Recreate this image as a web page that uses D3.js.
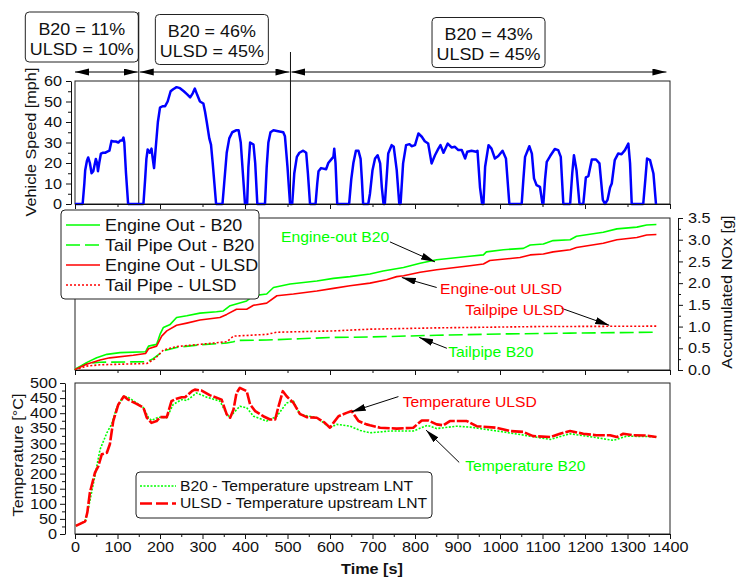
<!DOCTYPE html>
<html>
<head>
<meta charset="utf-8">
<script src="https://cdn.jsdelivr.net/npm/d3@7"></script>
<style>
  html, body { margin: 0; padding: 0; background: #fff; }
  svg { display: block; font-family: "Liberation Sans", Arial, sans-serif; }
</style>
</head>
<body>
<svg id="chart" width="736" height="577"></svg>
<script>
// ---- data: [time s, value] ----
const speed = [[0,0],[18,0],[22,10],[24,16.5],[28,21],[31,22.7],[35,20],[39,15],[43,16],[49,22],[52,20],[54,16],[57,20],[61,24.6],[66,25],[71,25],[76,25.5],[81,26],[86,30.8],[91,30.5],[96,30.5],[102,30],[107,31],[111,31],[114,32.4],[116,30],[120,15],[125,0],
  [161,0],[165,12],[168,22],[171,26.6],[176,25],[180,27],[183,22],[186,17.5],[191,30],[195,40],[200,47],[206,47.7],[212,47.7],[218,50],[225,55],[231,56],[239,57],[247,56.5],[256,55],[264,53.5],[271,52],[277,54],[282,56.3],[288,53],[294,50],[302,49],[306,45],[310,40],[316,32],[320,29],[324,20],[328,10],[332,0],
  [347,0],[351,10],[357,25],[363,32],[370,35],[380,36],[385,36],[390,30],[395,15],[400,0],[405,0],[408,18],[412,30],[420,29],[424,20],[429,0],
  [447,0],[451,18],[455,30],[460,35],[467,36],[478,35.5],[490,35],[494,33],[500,18],[506,0],[511,0],[516,15],[522,23],[528,25],[537,26],[544,25],[548,15],[553,0],
  [566,0],[570,10],[573,16],[579,17.5],[591,17],[596,20],[604,22],[608,23],[610,27],[613,20],[617,0],[645,0],[650,12],[655,20],[661,26],[667,26],[672,22],[675,12],[678,0],
  [690,0],[694,5],[700,16.5],[706,22.2],[712,23.8],[718,19.8],[722,8],[726,0],[729,0],[733,12],[737,24.6],[745,28.7],[750,27.9],[757,16.5],[763,0],
  [766,0],[772,19.8],[779,28.7],[787,29.2],[792,28.2],[800,28.7],[808,34.4],[816,32.8],[823,30.6],[831,29.5],[839,19.8],[847,23.8],[855,27],[860,28.7],[867,25],[877,29.5],[886,27.6],[894,27.9],[902,26.3],[910,26.3],[918,22.2],[923,25.5],[933,26],[944,25.5],[947,26],[953,8],[958,0],
  [961,0],[965,18.2],[973,28.7],[980,27],[988,22.2],[996,23.4],[1006,26],[1014,22.2],[1022,0],[1051,0],[1055,12],[1059,23],[1069,28.2],[1075,24.6],[1080,12.5],[1086,9.2],[1094,8.4],[1100,0],
  [1102,0],[1106,12],[1110,20.6],[1118,23.4],[1129,26.8],[1137,26.3],[1143,23],[1149,0],[1165,0],[1170,15],[1174,23.8],[1180,16.5],[1187,0],
  [1196,0],[1202,13],[1208,13.6],[1216,21.7],[1226,21.7],[1234,19.8],[1242,2],[1247,0],[1253,2],[1259,8],[1263,10],[1270,21.4],[1278,24.6],[1286,24.3],[1294,26.3],[1302,29.5],[1306,20],[1310,0],
  [1337,0],[1342,12],[1346,22.2],[1353,21.4],[1361,14.9],[1367,0]];

const noxEngineB20 = [[0,0],[2,0.03],[15,0.1],[27,0.17],[51,0.28],[75,0.36],[106,0.4],[166,0.42],[170,0.5],[173,0.55],[192,0.59],[196,0.7],[200,0.82],[208,0.98],[224,1.05],[239,1.21],[263,1.25],[294,1.31],[333,1.34],[349,1.36],[365,1.48],[404,1.59],[420,1.71],[451,1.75],[467,1.9],[506,1.98],[569,2.05],[608,2.11],[647,2.15],[694,2.21],[725,2.28],[773,2.36],[812,2.46],[851,2.54],[929,2.62],[961,2.65],[968,2.72],[1008,2.77],[1055,2.8],[1071,2.88],[1102,2.9],[1125,2.98],[1165,3.0],[1180,3.08],[1243,3.17],[1275,3.25],[1322,3.29],[1345,3.34],[1368,3.35]];
const noxTailB20 = [[0,0],[2,0.02],[27,0.15],[59,0.18],[169,0.19],[184,0.26],[208,0.44],[239,0.52],[294,0.58],[357,0.62],[373,0.65],[380,0.68],[451,0.69],[529,0.72],[608,0.75],[694,0.76],[733,0.77],[851,0.8],[1008,0.83],[1165,0.85],[1368,0.87]];
const noxEngineULSD = [[0,0],[2,0.02],[27,0.13],[59,0.23],[82,0.28],[137,0.34],[166,0.38],[173,0.49],[192,0.55],[204,0.78],[216,0.9],[239,1.03],[263,1.08],[294,1.15],[341,1.21],[357,1.28],[380,1.4],[404,1.4],[420,1.49],[451,1.54],[475,1.71],[514,1.75],[569,1.82],[608,1.88],[647,1.94],[694,2.0],[733,2.08],[757,2.15],[773,2.17],[812,2.25],[851,2.31],[929,2.4],[961,2.44],[976,2.52],[1047,2.59],[1071,2.65],[1102,2.67],[1125,2.72],[1165,2.77],[1180,2.82],[1243,2.92],[1275,3.0],[1322,3.05],[1345,3.11],[1368,3.12]];
const noxTailULSD = [[0,0],[2,0.01],[27,0.09],[59,0.12],[169,0.15],[188,0.26],[208,0.46],[239,0.54],[294,0.59],[357,0.65],[373,0.78],[451,0.82],[475,0.87],[608,0.9],[694,0.94],[851,0.97],[1086,1.0],[1368,1.01]];

const tempB20 = [[2,27],[24,42],[31,82],[43,165],[59,280],[75,335],[86,363],[98,418],[114,456],[125,453],[145,434],[161,418],[173,385],[180,376],[196,387],[216,385],[231,429],[251,445],[263,442],[286,467],[310,453],[341,440],[357,396],[365,387],[373,401],[388,423],[404,418],[420,390],[451,374],[475,390],[498,434],[514,440],[529,396],[569,385],[600,352],[616,363],[647,357],[671,343],[694,335],[741,341],[796,341],[829,360],[851,349],[898,357],[929,354],[1008,338],[1071,324],[1118,313],[1165,332],[1227,319],[1267,310],[1298,324],[1368,322]];
const tempULSD = [[2,27],[24,42],[29,71],[35,137],[47,203],[55,225],[63,264],[75,269],[82,297],[90,374],[102,429],[115,456],[125,445],[145,431],[161,418],[169,385],[180,368],[192,374],[200,387],[216,387],[227,440],[239,448],[251,453],[259,453],[275,473],[282,478],[298,475],[318,459],[345,445],[357,396],[365,385],[373,412],[380,467],[388,484],[404,473],[412,429],[424,407],[443,390],[459,379],[471,379],[478,418],[489,473],[498,456],[514,434],[529,398],[545,387],[569,385],[588,368],[600,352],[608,368],[620,390],[639,401],[651,407],[667,374],[686,363],[694,360],[718,352],[757,349],[796,352],[816,376],[831,376],[851,363],[867,360],[882,374],[922,374],[945,357],[992,352],[1023,341],[1055,338],[1078,324],[1118,321],[1141,332],[1165,341],[1196,332],[1227,327],[1259,327],[1275,321],[1290,332],[1314,327],[1345,326],[1368,321]];

// ticks
const timeTicks = d3.range(0, 1401, 100);
const timeMinor = d3.range(50, 1400, 100);
const speedTicks = d3.range(0, 61, 10);
const speedMinor = d3.range(5, 60, 10);
const noxTicks = d3.range(0, 3.51, 0.5);
const noxMinor = d3.range(0.25, 3.5, 0.5);
const tempTicks = d3.range(0, 501, 50);
const tempMinor = d3.range(25, 500, 50);

// phase annotations on top
const phaseBounds = [0, 150, 507, 1394];
const phaseB20 = ['B20 = 11%', 'B20 = 46%', 'B20 = 43%'];
const phaseULSD = ['ULSD = 10%', 'ULSD = 45%', 'ULSD = 45%'];
const phaseBoxCenter = [16, 322, 973];

// series labels
const noxLabels = ['Engine Out - B20', 'Tail Pipe Out - B20', 'Engine Out - ULSD', 'Tail Pipe - ULSD'];
const tempLabels = ['B20 - Temperature upstream LNT', 'ULSD - Temperature upstream LNT'];

// callouts: label, text anchor [t, v], arrow from [t, v] to [t, v]
const noxCallouts = [
  { text: 'Engine-out B20',  at: [485, 2.94], from: [741, 2.95], to: [847, 2.49], c: 'green' },
  { text: 'Engine-out ULSD', at: [859, 1.74], from: [851, 1.9],  to: [769, 2.13], c: 'red' },
  { text: 'Tailpipe ULSD',   at: [918, 1.27], from: [1145, 1.42], to: [1257, 1.03], c: 'red' },
  { text: 'Tailpipe B20',    at: [878, 0.29], from: [875, 0.5],  to: [810, 0.75], c: 'green' }
];
const tempCallouts = [
  { text: 'Temperature ULSD', at: [771, 420], from: [761, 455], to: [651, 405], c: 'red' },
  { text: 'Temperature B20',  at: [918, 209], from: [904, 237], to: [826, 344], c: 'green' }
];

// ---- setup ----
const GREEN = '#00ff00', RED = '#ff0000', BLUE = '#0000ff';
const COL = { green: GREEN, red: RED };
const SX = 1.12; // source font runs wider than Arial
const svg = d3.select('#chart');

const x = d3.scaleLinear().domain([0, 1400]).range([75, 670]);
const ySpeed = d3.scaleLinear().domain([0, 60]).range([204, 81]);
const yNox = d3.scaleLinear().domain([0, 3.5]).range([370, 218]);
const yTemp = d3.scaleLinear().domain([0, 500]).range([534, 383]);

const defs = svg.append('defs');
defs.append('marker').attr('id', 'head')
  .attr('markerUnits', 'userSpaceOnUse')
  .attr('markerWidth', 14).attr('markerHeight', 8)
  .attr('refX', 14).attr('refY', 3.5)
  .attr('orient', 'auto-start-reverse')
  .append('path').attr('d', 'M0,0 L14,3.5 L0,7 Z').attr('fill', '#000');

function frame(y){
  svg.append('rect')
    .attr('x', x.range()[0]).attr('y', y.range()[1])
    .attr('width', x.range()[1] - x.range()[0])
    .attr('height', y.range()[0] - y.range()[1])
    .attr('fill', 'none').attr('stroke', '#222').attr('stroke-width', 1);
}

function drawLine(data, y, color, width, dash){
  const line = d3.line().x(d => x(d[0])).y(d => y(d[1]));
  svg.append('path').datum(data)
    .attr('d', line)
    .attr('fill', 'none')
    .attr('stroke', color)
    .attr('stroke-width', width)
    .attr('stroke-linejoin', 'round')
    .attr('stroke-dasharray', dash || null);
}

// axis with longer major and shorter minor ticks
function axis(maker, scale, pos, major, minor, majLen, minLen, pad, fmt){
  const g = svg.append('g').attr('transform', pos);
  g.append('g').call(maker(scale).tickValues(minor).tickSize(minLen).tickSizeOuter(0).tickFormat(''))
    .call(s => s.select('.domain').remove());
  g.append('g').call(maker(scale).tickValues(major).tickSize(majLen).tickSizeOuter(0).tickPadding(pad)
      .tickFormat(fmt === null ? '' : (fmt || d3.format('d'))));
  g.selectAll('line, path').attr('stroke', '#111');
  g.selectAll('text').attr('font-size', '14.5px').attr('fill', '#111').attr('font-family', null);
  return g;
}

function rotTitle(tx, ty, text){
  svg.append('g').attr('transform', `translate(${tx},${ty}) rotate(-90)`)
    .append('text').attr('x', 0).attr('text-anchor', 'middle')
    .attr('font-size', '14.5px').attr('fill', '#111').text(text);
}

function callouts(list, y){
  list.forEach(c => {
    svg.append('line')
      .attr('x1', x(c.from[0])).attr('y1', y(c.from[1]))
      .attr('x2', x(c.to[0])).attr('y2', y(c.to[1]))
      .attr('stroke', '#000').attr('stroke-width', 1)
      .attr('marker-end', 'url(#head)');
    svg.append('text').attr('x', x(c.at[0])).attr('y', y(c.at[1]))
      .attr('font-size', '14px').attr('fill', COL[c.c]).text(c.text);
  });
}

// ---- top: phases ----
const phaseTop = [12, 14.5, 17.5];
phaseB20.forEach((t, i) => {
  const cx = x(phaseBoxCenter[i]), top = phaseTop[i], w = 113;
  svg.append('rect').attr('x', cx - w / 2).attr('y', top).attr('width', w).attr('height', 50)
    .attr('rx', 4).attr('fill', '#fff').attr('stroke', '#222');
  svg.append('text').attr('x', cx).attr('y', top + 23).attr('text-anchor', 'middle')
    .attr('font-size', '16px').attr('fill', '#111').text(t);
  svg.append('text').attr('x', cx).attr('y', top + 42.7).attr('text-anchor', 'middle')
    .attr('font-size', '16px').attr('fill', '#111').text(phaseULSD[i]);
});
[[phaseBounds[1], 12], [phaseBounds[2], 52]].forEach(([t, top]) => {
  svg.append('line').attr('x1', x(t)).attr('x2', x(t)).attr('y1', top).attr('y2', ySpeed(0))
    .attr('stroke', '#111').attr('stroke-width', 1);
});
d3.pairs(phaseBounds).forEach(([a, b], i) => {
  const x1 = x(a) + (i ? 1 : 0), x2 = x(b) - 1;
  svg.append('line').attr('x1', x1).attr('x2', x2).attr('y1', 72).attr('y2', 72)
    .attr('stroke', '#000').attr('stroke-width', 1)
    .attr('marker-start', 'url(#head)').attr('marker-end', 'url(#head)');
});

// ---- panel 1: speed ----
frame(ySpeed);
drawLine(speed, ySpeed, BLUE, 2.5);
axis(d3.axisLeft, ySpeed, 'translate(71,0)', speedTicks, speedMinor, 5, 3, 4);
axis(d3.axisBottom, x, `translate(0,${ySpeed(0)})`, d3.range(0, 1401, 200), d3.range(100, 1400, 200), 5, 3, 2, null);
rotTitle(36, 142, 'Vehicle Speed [mph]');

// ---- panel 2: NOx ----
frame(yNox);
drawLine(noxTailB20, yNox, GREEN, 1.6, '14,5');
drawLine(noxTailULSD, yNox, RED, 1.6, '2,2');
drawLine(noxEngineB20, yNox, GREEN, 1.6);
drawLine(noxEngineULSD, yNox, RED, 1.6);
axis(d3.axisRight, yNox, 'translate(678,0)', noxTicks, noxMinor, 5, 3, 5, d3.format('.1f'));
axis(d3.axisBottom, x, `translate(0,${yNox(0)})`, d3.range(0, 1401, 200), d3.range(100, 1400, 200), 5, 3, 2, null);
svg.append('g').attr('transform', 'translate(732,292) rotate(-90)')
  .append('text').attr('x', 0).attr('text-anchor', 'middle')
  .attr('font-size', '14.5px').attr('fill', '#111').text('Accumulated NOx [g]');
callouts(noxCallouts, yNox);

// NOx legend
const noxStyle = [[GREEN, null], [GREEN, '14,5'], [RED, null], [RED, '2,2']];
const lg = svg.append('g');
lg.append('rect').attr('x', 61).attr('y', 210).attr('width', 198).attr('height', 89)
  .attr('rx', 4).attr('fill', '#fff').attr('stroke', '#222');
noxLabels.forEach((lab, i) => {
  const ly = 225 + i * 20;
  lg.append('line').attr('x1', 66).attr('x2', 100).attr('y1', ly).attr('y2', ly)
    .attr('stroke', noxStyle[i][0]).attr('stroke-width', 1.6).attr('stroke-dasharray', noxStyle[i][1]);
  lg.append('text').attr('x', 105).attr('y', ly + 5.6).attr('font-size', '16px').attr('fill', '#111').text(lab);
});

// ---- panel 3: temperature ----
frame(yTemp);
drawLine(tempB20, yTemp, GREEN, 1.6, '2,1.5');
drawLine(tempULSD, yTemp, RED, 2.6, '12,2');
axis(d3.axisLeft, yTemp, 'translate(65,0)', tempTicks, tempMinor, 5, 3, 3);
axis(d3.axisBottom, x, `translate(0,${yTemp(0)})`, timeTicks, timeMinor, 5, 3, 3);
rotTitle(23, 455, 'Temperature [°C]');
svg.append('text').attr('x', 372).attr('y', 574).attr('text-anchor', 'middle')
  .attr('font-size', '14.5px').attr('font-weight', 'bold').attr('fill', '#111').text('Time [s]');
callouts(tempCallouts, yTemp);

const tempStyle = [[GREEN, '2,1.5', 1.6], [RED, '12,4', 2.6]];
const tg = svg.append('g');
tg.append('rect').attr('x', 136).attr('y', 472).attr('width', 296).attr('height', 46)
  .attr('rx', 4).attr('fill', '#fff').attr('stroke', '#222');
tempLabels.forEach((lab, i) => {
  const ly = 486 + i * 17.5;
  tg.append('line').attr('x1', 140).attr('x2', 176).attr('y1', ly).attr('y2', ly)
    .attr('stroke', tempStyle[i][0]).attr('stroke-width', tempStyle[i][2]).attr('stroke-dasharray', tempStyle[i][1]);
  tg.append('text').attr('x', 180).attr('y', ly + 5).attr('font-size', '14px').attr('fill', '#111').text(lab);
});

// widen every text around its anchor x
svg.selectAll('text').each(function(){
  const x0 = +this.getAttribute('x') || 0;
  this.setAttribute('transform', `matrix(${SX},0,0,1,${(1 - SX) * x0},0)`);
});
</script>
</body>
</html>
